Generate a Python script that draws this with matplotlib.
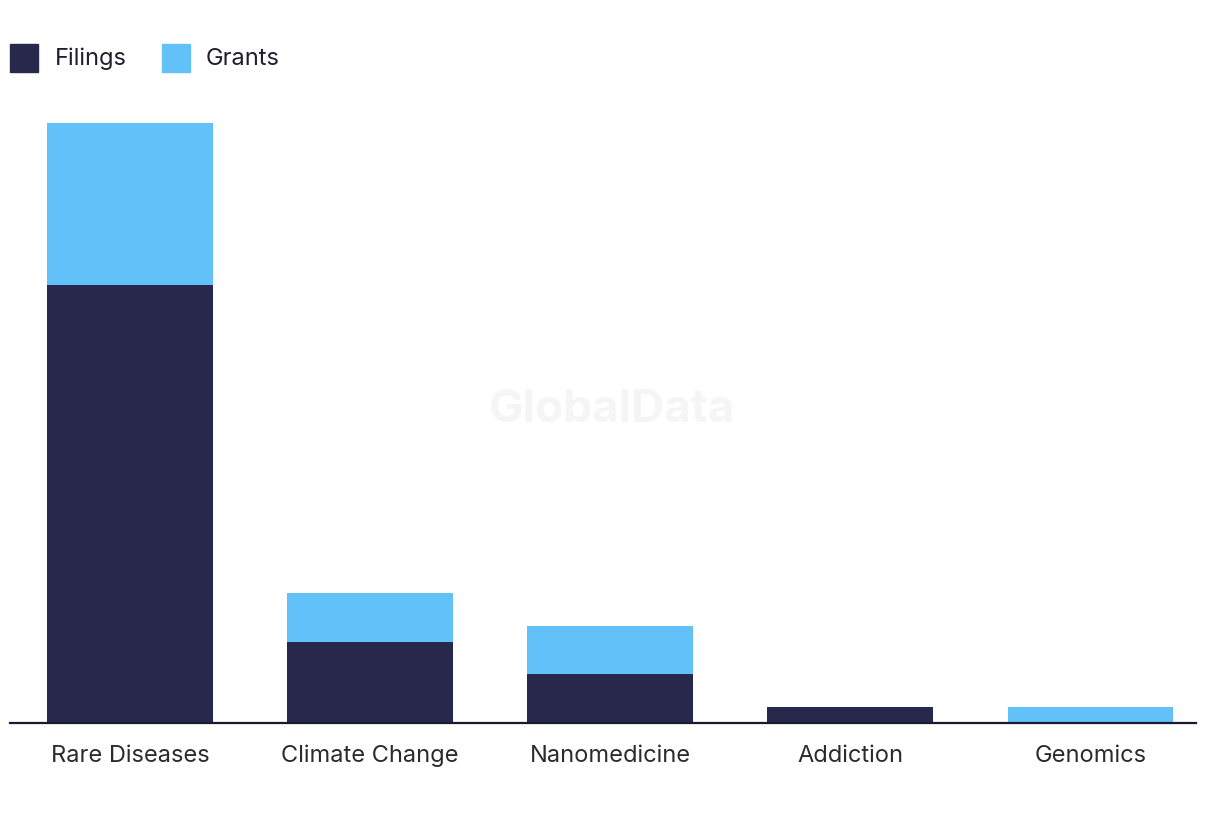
import numpy as np
import matplotlib.pyplot as plt
from matplotlib.patches import Rectangle

# Data
categories = ["Rare Diseases", "Climate Change", "Nanomedicine", "Addiction", "Genomics"]
filings = [27, 5, 3, 1, 0]
grants = [10, 3, 3, 0, 1]

dark = '#27284b'
light = '#62c1f8'

plt.rcParams['font.family'] = ['Inter', 'DejaVu Sans']

fig = plt.figure(figsize=(12.2, 8.2), dpi=100)
ax = fig.add_axes([10/1220, 1 - 724/820, 1186/1220, 616/820])

x = np.arange(len(categories))
ax.bar(x, filings, width=0.69, color=dark, label="Filings")
ax.bar(x, grants, width=0.69, bottom=filings, color=light, label="Grants")

ax.set_xlim(-0.5, 4.44)
ax.set_ylim(0, 38)
ax.set_xticks(x)
ax.set_xticklabels(categories, fontsize=17, color='#2b2b2b')
ax.tick_params(axis='x', length=0, pad=15)
ax.set_yticks([])
for s in ['top', 'right', 'left']:
    ax.spines[s].set_visible(False)
ax.spines['bottom'].set_color('#1a1a2e')
ax.spines['bottom'].set_linewidth(1.6)

# watermark
ax.text(0.508, 0.51, "GlobalData", transform=ax.transAxes, ha='center', va='center',
        fontsize=33, fontweight='bold', color='#f5f5f5', zorder=0)

# legend
fig.patches.append(Rectangle((10/1220, 1 - 73/820), 28/1220, 28/820,
                             transform=fig.transFigure, color=dark))
fig.text(55/1220, 1 - 59/820, "Filings", fontsize=17, va='center', color='#1f1f2e')
fig.patches.append(Rectangle((162/1220, 1 - 73/820), 28/1220, 28/820,
                             transform=fig.transFigure, color=light))
fig.text(206/1220, 1 - 59/820, "Grants", fontsize=17, va='center', color='#1f1f2e')

fig.savefig("out.png", dpi=100)
